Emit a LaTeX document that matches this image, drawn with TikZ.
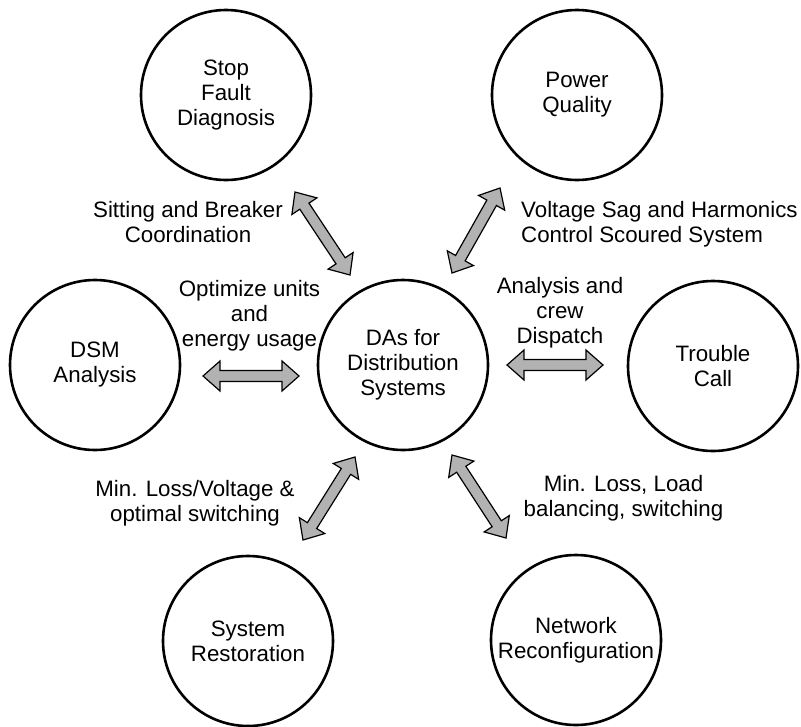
\documentclass[tikz,border=0pt]{standalone}
\usepackage{fontspec}
\setmainfont{Liberation Sans}
\usetikzlibrary{calc}
\definecolor{arrowfill}{gray}{0.70}
\tikzset{
  bub/.style={circle, draw=black, line width=2.6pt, minimum size=170pt, inner sep=0pt, align=center, font=\fontsize{22.3}{25}\selectfont},
  lbl/.style={inner sep=0pt, align=center, font=\fontsize{22.3}{25}\selectfont},
  fatarrowstyle/.style={draw=black, fill=arrowfill, line width=1.2pt, line join=miter}
}
\newcommand\fatarr[2]{%
  \draw[fatarrowstyle] (#1)
    -- ($(#1)!17pt!(#2)!15pt!90:(#2)$)
    -- ($(#1)!17pt!(#2)!5.5pt!90:(#2)$)
    -- ($(#2)!17pt!(#1)!5.5pt!-90:(#1)$)
    -- ($(#2)!17pt!(#1)!15pt!-90:(#1)$)
    -- (#2)
    -- ($(#2)!17pt!(#1)!15pt!90:(#1)$)
    -- ($(#2)!17pt!(#1)!5.5pt!90:(#1)$)
    -- ($(#1)!17pt!(#2)!5.5pt!-90:(#2)$)
    -- ($(#1)!17pt!(#2)!15pt!-90:(#2)$)
    -- cycle;}
\begin{document}
\begin{tikzpicture}[x=1pt, y=-1pt]
\useasboundingbox (0,0) rectangle (801,726);
% circles
\node[bub] (stop) at (226,95) {Stop\\Fault\\Diagnosis};
\node[bub] (pq) at (577,95) {Power\\Quality};
\node[bub] (dsm) at (95,365) {DSM\\Analysis};
\node[bub] (das) at (403,365) {DAs for\\Distribution\\Systems};
\node[bub] (tc) at (713,366) {Trouble\\Call};
\node[bub] (sr) at (248,641) {System\\Restoration};
\node[bub] (nr) at (576,640) {Network\\Reconfiguration};
% labels
\node[lbl] (l1) at (188,222) {Sitting and Breaker\\Coordination};
\node[lbl, anchor=west, align=left] (l2) at (521,224) {Voltage Sag and Harmonics\\Control Scoured System};
\node[lbl] (l3) at (249.5,316) {Optimize units\\and\\energy usage};
\node[lbl] (l4) at (560,312.5) {Analysis and\\crew\\Dispatch};
\node[lbl] (l5) at (195,503.5) {Min. Loss/Voltage \&\\optimal switching};
\node[lbl] (l6) at (623.5,498.5) {Min. Loss, Load\\balancing, switching};
% arrow end points
\coordinate (a1s) at (295,192); \coordinate (a1d) at (350,275);
\coordinate (a2s) at (500,188); \coordinate (a2d) at (452,273);
\coordinate (a3s) at (203,376); \coordinate (a3d) at (299,376);
\coordinate (a4s) at (507,365); \coordinate (a4d) at (603,365);
\coordinate (a5s) at (355,457); \coordinate (a5d) at (303,540);
\coordinate (a6s) at (452,455); \coordinate (a6d) at (506,538);
\fatarr{a1s}{a1d}
\fatarr{a2s}{a2d}
\fatarr{a3s}{a3d}
\fatarr{a4s}{a4d}
\fatarr{a5s}{a5d}
\fatarr{a6s}{a6d}
\end{tikzpicture}
\end{document}
